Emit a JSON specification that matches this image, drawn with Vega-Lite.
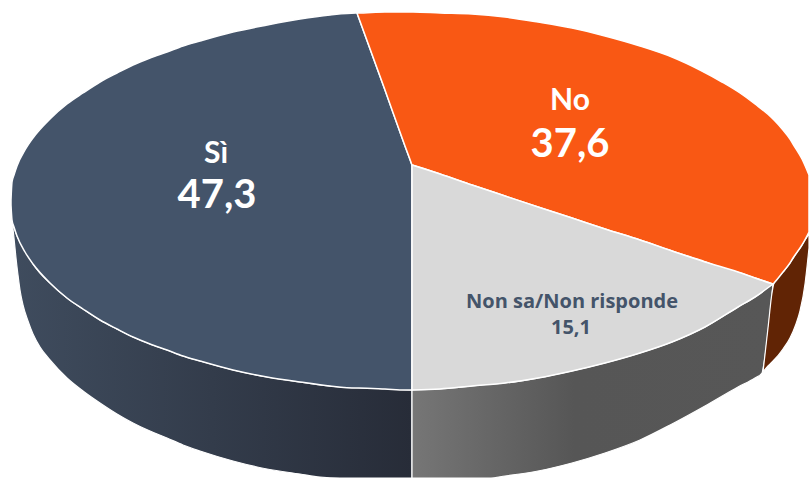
{
"$schema":"https://vega.github.io/schema/vega-lite/v6.json",
"width":809,"height":478,"padding":0,
"autosize":{"type":"fit","contains":"padding"},
"background":"white",
"view":{"stroke":null},
"datasets":{
"siSide":[{"x":12,"y":218,"y2":220},{"x":14,"y":227,"y2":238},{"x":16,"y":233,"y2":258},{"x":18,"y":238,"y2":275},{"x":20,"y":242,"y2":290},{"x":23,"y":247,"y2":305},{"x":28,"y":255,"y2":321},{"x":33,"y":264,"y2":334},{"x":40,"y":273,"y2":347},{"x":50,"y":283,"y2":360},{"x":67,"y":298,"y2":378},{"x":83,"y":309,"y2":391},{"x":100,"y":320,"y2":403},{"x":117,"y":329,"y2":414},{"x":133,"y":337,"y2":423},{"x":150,"y":344,"y2":431},{"x":167,"y":350,"y2":438},{"x":183,"y":356,"y2":445},{"x":200,"y":361,"y2":451},{"x":233,"y":370,"y2":461},{"x":267,"y":377,"y2":469},{"x":300,"y":382,"y2":474},{"x":320,"y":385,"y2":477},{"x":340,"y":387,"y2":478},{"x":367,"y":388,"y2":478},{"x":412,"y":390,"y2":478}],
"greySide":[{"x":412,"y":390,"y2":478},{"x":440,"y":389,"y2":478},{"x":472,"y":386,"y2":478},{"x":490,"y":384,"y2":478},{"x":505,"y":383,"y2":476},{"x":538,"y":378,"y2":471},{"x":572,"y":371,"y2":463},{"x":605,"y":363,"y2":453},{"x":640,"y":353,"y2":440},{"x":672,"y":342,"y2":424},{"x":705,"y":327,"y2":406},{"x":738,"y":307,"y2":387},{"x":755,"y":297,"y2":378},{"x":762,"y":292,"y2":373},{"x":764,"y":290,"y2":363},{"x":773,"y":284,"y2":284}],
"noSide":[{"x":763,"y":372,"y2":372},{"x":768,"y":328,"y2":366},{"x":772,"y":293,"y2":362},{"x":774,"y":283,"y2":360},{"x":783,"y":272,"y2":349},{"x":790,"y":263,"y2":338},{"x":796,"y":254,"y2":324},{"x":800,"y":248,"y2":311},{"x":805,"y":240,"y2":284},{"x":807,"y":237,"y2":267},{"x":809,"y":233,"y2":248}],
"siTop":[{"x":11,"y":200,"y2":205},{"x":12,"y":182,"y2":220},{"x":14,"y":175,"y2":227},{"x":17,"y":166,"y2":236},{"x":25,"y":150,"y2":252},{"x":33,"y":138,"y2":264},{"x":50,"y":119,"y2":283},{"x":67,"y":104,"y2":298},{"x":83,"y":93,"y2":309},{"x":100,"y":82,"y2":320},{"x":117,"y":73,"y2":329},{"x":133,"y":65,"y2":337},{"x":150,"y":58,"y2":344},{"x":167,"y":52,"y2":350},{"x":183,"y":46,"y2":356},{"x":200,"y":41,"y2":361},{"x":233,"y":32,"y2":370},{"x":267,"y":25,"y2":377},{"x":300,"y":19,"y2":382},{"x":330,"y":15,"y2":386},{"x":356,"y":13,"y2":388},{"x":357,"y":13,"y2":388},{"x":358,"y":15.8,"y2":388},{"x":359,"y":18.6,"y2":388},{"x":385,"y":90,"y2":389},{"x":405,"y":146,"y2":390},{"x":412,"y":165,"y2":390}],
"noTop":[{"x":357,"y":13,"y2":13},{"x":358,"y":13,"y2":15.8},{"x":385,"y":12,"y2":90},{"x":405,"y":12,"y2":146},{"x":411,"y":12,"y2":162.2},{"x":412,"y":12,"y2":165},{"x":413,"y":12,"y2":165.3},{"x":440,"y":13,"y2":174},{"x":472,"y":14,"y2":185},{"x":505,"y":17,"y2":196},{"x":538,"y":22,"y2":207},{"x":572,"y":28,"y2":218},{"x":605,"y":36,"y2":229},{"x":640,"y":46,"y2":240},{"x":672,"y":57,"y2":251},{"x":700,"y":70,"y2":260},{"x":722,"y":82,"y2":268},{"x":740,"y":93,"y2":273},{"x":755,"y":104,"y2":278},{"x":772,"y":118,"y2":283.7},{"x":773,"y":119,"y2":284},{"x":774,"y":120,"y2":283},{"x":783,"y":130,"y2":272},{"x":790,"y":139,"y2":263},{"x":793,"y":144,"y2":258},{"x":802,"y":159,"y2":245},{"x":809,"y":175,"y2":232}],
"greyTop":[{"x":412,"y":165,"y2":390},{"x":440,"y":174,"y2":389},{"x":472,"y":185,"y2":386},{"x":505,"y":196,"y2":383},{"x":538,"y":207,"y2":378},{"x":572,"y":218,"y2":371},{"x":605,"y":229,"y2":363},{"x":640,"y":240,"y2":353},{"x":672,"y":251,"y2":342},{"x":705,"y":262,"y2":327},{"x":738,"y":272,"y2":307},{"x":755,"y":278,"y2":297},{"x":773,"y":284,"y2":284}],
"names":[{"t":"Sì","x":216,"y":163},{"t":"No","x":570,"y":110}],
"values":[{"t":"47,3","x":217,"y":208},{"t":"37,6","x":570,"y":157}],
"small":[{"t":"Non sa/Non risponde","x":572,"y":308},{"t":"15,1","x":571,"y":334}]
},
"encoding":{
"x":{"field":"x","type":"quantitative","axis":null,"scale":{"domain":[0,809],"nice":false,"zero":false}},
"y":{"field":"y","type":"quantitative","axis":null,"scale":{"domain":[478,0],"nice":false,"zero":false}}
},
"layer":[
{"data":{"name":"siSide"},"mark":{"type":"area","interpolate":"monotone","clip":true,"stroke":"white","strokeWidth":1.2,"fill":{"gradient":"linear","x1":0,"y1":0,"x2":1,"y2":0,"stops":[{"offset":0,"color":"#3F4C5E"},{"offset":1,"color":"#272C38"}]}},"encoding":{"y2":{"field":"y2"}}},
{"data":{"name":"greySide"},"mark":{"type":"area","interpolate":"monotone","clip":true,"stroke":"white","strokeWidth":1.2,"fill":{"gradient":"linear","x1":0,"y1":0,"x2":1,"y2":0,"stops":[{"offset":0,"color":"#767676"},{"offset":0.45,"color":"#565656"},{"offset":1,"color":"#575757"}]}},"encoding":{"y2":{"field":"y2"}}},
{"data":{"name":"noSide"},"mark":{"type":"area","interpolate":"monotone","clip":true,"stroke":"white","strokeWidth":1.2,"fill":"#612405"},"encoding":{"y2":{"field":"y2"}}},
{"data":{"name":"siTop"},"mark":{"type":"area","interpolate":"monotone","clip":true,"stroke":"white","strokeWidth":1.5,"fill":"#44546A"},"encoding":{"y2":{"field":"y2"}}},
{"data":{"name":"noTop"},"mark":{"type":"area","interpolate":"monotone","clip":true,"stroke":"white","strokeWidth":1.5,"fill":"#F95814"},"encoding":{"y2":{"field":"y2"}}},
{"data":{"name":"greyTop"},"mark":{"type":"area","interpolate":"monotone","clip":true,"stroke":"white","strokeWidth":1.5,"fill":"#D9D9D9"},"encoding":{"y2":{"field":"y2"}}},
{"data":{"name":"names"},"mark":{"type":"text","font":"Lato","fontSize":30,"fontWeight":"bold","color":"white","baseline":"alphabetic","align":"center"},"encoding":{"text":{"field":"t"}}},
{"data":{"name":"values"},"mark":{"type":"text","font":"Lato","fontSize":40,"fontWeight":"bold","color":"white","baseline":"alphabetic","align":"center"},"encoding":{"text":{"field":"t"}}},
{"data":{"name":"small"},"mark":{"type":"text","font":"Open Sans","fontSize":20,"fontWeight":"bold","color":"#44546A","baseline":"alphabetic","align":"center"},"encoding":{"text":{"field":"t"}}}
]
}
